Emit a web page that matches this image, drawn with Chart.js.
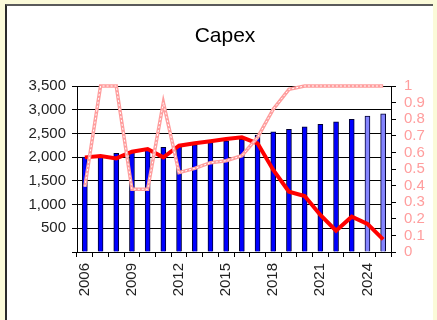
<!DOCTYPE html>
<html>
<head>
<meta charset="utf-8">
<title>Capex</title>
<script src="https://cdn.jsdelivr.net/npm/chart.js@4.4.1/dist/chart.umd.min.js"></script>
<style>
  html, body { margin: 0; padding: 0; }
  body { width: 437px; height: 320px; background: #fbfad9; position: relative; overflow: hidden; }
  #panel { position: absolute; left: 5px; top: 4px; width: 426px; height: 330px; background: #fff;
           border-top: 2px solid #5a5a5a; border-left: 2px solid #2a2a2a; }
  #capex-chart { position: absolute; left: 13px; top: 0; }
</style>
</head>
<body>
<div id="panel"></div>
<canvas id="capex-chart" width="424" height="320"></canvas>
<script>
const years = ['2006', '2007', '2008', '2009', '2010', '2011', '2012', '2013', '2014', '2015',
               '2016', '2017', '2018', '2019', '2020', '2021', '2022', '2023', '2024', '2025'];
const capex = [2000, 2025, 2080, 2110, 2150, 2205, 2230, 2260, 2305, 2345,
               2375, 2465, 2535, 2585, 2640, 2690, 2745, 2795, 2865, 2915];
const redSeries = [0.57, 0.578, 0.564, 0.604, 0.62, 0.57, 0.64, 0.655, 0.667, 0.681,
                   0.691, 0.655, 0.494, 0.363, 0.337, 0.223, 0.128, 0.213, 0.169, 0.076];
const pinkSeries = [0.393, 1, 1, 0.378, 0.378, 0.9, 0.478, 0.504, 0.538, 0.55,
                    0.58, 0.69, 0.86, 0.98, 1, 1, 1, 1, 1, 1];
const forecastFrom = '2024';

const fontFamily = '"Liberation Sans", Arial, sans-serif';
const barColors = years.map(y => (y >= forecastFrom ? '#8585ff' : '#0000ff'));

// white dashes down the middle of the pink line give it the chain look
const chainLine = {
  id: 'chainLine',
  afterDatasetsDraw(chart) {
    const pts = chart.getDatasetMeta(2).data;
    const ctx = chart.ctx;
    ctx.save();
    ctx.beginPath();
    pts.forEach((p, i) => (i ? ctx.lineTo(p.x, p.y) : ctx.moveTo(p.x, p.y)));
    ctx.strokeStyle = '#ffffff';
    ctx.lineWidth = 1;
    ctx.setLineDash([2, 2]);
    ctx.stroke();
    ctx.restore();
  }
};

const ctx = document.getElementById('capex-chart').getContext('2d');
new Chart(ctx, {
  type: 'bar',
  data: {
    labels: years,
    datasets: [
      {
        label: 'Capex',
        data: capex,
        backgroundColor: barColors,
        borderColor: '#000033',
        borderWidth: 1,
        barThickness: 5,
        yAxisID: 'y',
        order: 3
      },
      {
        type: 'line',
        label: 'Red',
        data: redSeries,
        borderColor: '#ff0000',
        borderWidth: 4,
        pointRadius: 0,
        tension: 0,
        clip: false,
        yAxisID: 'y1',
        order: 2
      },
      {
        type: 'line',
        label: 'Pink',
        data: pinkSeries,
        borderColor: '#ff9d9d',
        borderWidth: 3.5,
        pointRadius: 0,
        tension: 0,
        clip: false,
        yAxisID: 'y1',
        order: 1
      }
    ]
  },
  options: {
    responsive: false,
    animation: false,
    devicePixelRatio: 1,
    layout: { padding: 0 },
    plugins: {
      legend: { display: false },
      tooltip: { enabled: false },
      title: {
        display: true,
        text: 'Capex',
        color: '#000',
        font: { family: fontFamily, size: 21, weight: 'normal' },
        padding: { top: 24, bottom: 36.8 }
      }
    },
    scales: {
      x: {
        grid: { drawOnChartArea: false, color: '#000', tickLength: 5, offset: true },
        border: { color: '#000' },
        ticks: {
          autoSkip: false,
          minRotation: 90,
          maxRotation: 90,
          padding: 6,
          color: '#222',
          font: { family: fontFamily, size: 15 },
          callback: function (val, i) { return i % 3 === 0 ? this.getLabelForValue(val) : ''; }
        },
        afterFit: (s) => { s.height = 68; }
      },
      y: {
        position: 'left',
        min: 0,
        max: 3500,
        grid: { color: '#000', tickLength: 5 },
        border: { color: '#000' },
        ticks: {
          stepSize: 500,
          autoSkip: false,
          padding: 6,
          color: '#222',
          font: { family: fontFamily, size: 15 },
          callback: (v) => (v === 0 ? '' : v.toLocaleString('en-US'))
        },
        afterFit: (s) => { s.width = 64; }
      },
      y1: {
        position: 'right',
        min: 0,
        max: 1,
        grid: { drawOnChartArea: false, color: '#000', tickLength: 5 },
        border: { color: '#000' },
        ticks: {
          stepSize: 0.1,
          autoSkip: false,
          padding: 8,
          color: '#ff9d9d',
          font: { family: fontFamily, size: 15 },
          callback: (v) => String(Math.round(v * 10) / 10)
        },
        afterFit: (s) => { s.width = 46; }
      }
    }
  },
  plugins: [chainLine]
});
</script>
</body>
</html>
